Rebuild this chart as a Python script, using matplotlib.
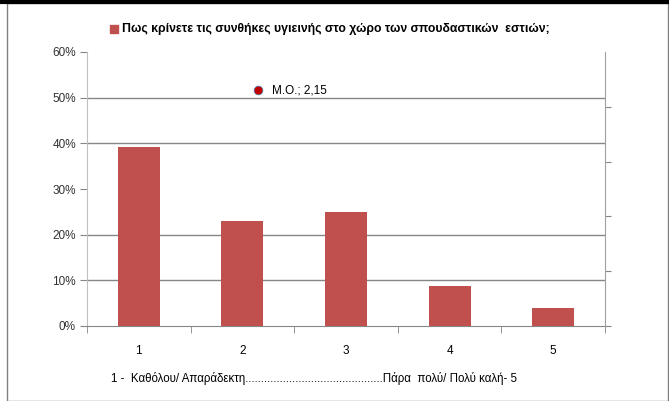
import matplotlib
matplotlib.use('Agg')
import matplotlib.pyplot as plt
from matplotlib.patches import Rectangle
from matplotlib.lines import Line2D

# data
categories = [1, 2, 3, 4, 5]
shares = [0.393, 0.230, 0.249, 0.087, 0.039]
mean_value = 2.15
mean_height = 4.3  # position on secondary axis
y_ticks = [0, 0.1, 0.2, 0.3, 0.4, 0.5, 0.6]
grid_levels = [0.1, 0.2, 0.4, 0.5]
legend_text = 'Πως κρίνετε τις συνθήκες υγιεινής στο χώρο των σπουδαστικών  εστιών;'
x_label = '1 -  Καθόλου/ Απαράδεκτη' + '.' * 44 + 'Πάρα  πολύ/ Πολύ καλή- 5'

W, H = 669, 401
fig = plt.figure(figsize=(W / 100, H / 100), dpi=100)
fig.patch.set_facecolor('white')
plt.rcParams['font.family'] = ['Liberation Sans', 'DejaVu Sans']

# outer frame
fig.add_artist(Rectangle((7 / W, 0.5 / H), 660.5 / W, 397.5 / H, transform=fig.transFigure,
                         fill=False, edgecolor='#808080', linewidth=1.0))
fig.add_artist(Line2D([0, 1], [1 - 1.5 / H, 1 - 1.5 / H], transform=fig.transFigure,
                      color='black', linewidth=3))

ax = fig.add_axes([87 / W, 75 / H, 518 / W, 274 / H])
bar_color = '#C0504D'
ax.bar(categories, shares, width=0.405, color=bar_color, zorder=3)
ax.set_xlim(0.5, 5.5)
ax.set_ylim(0, 0.6)

for g in grid_levels:
    ax.axhline(g, color='#868686', linewidth=1.0, zorder=1)

ax.set_yticks(y_ticks)
ax.set_yticklabels([f'{int(round(v * 100))}%' for v in y_ticks])
ax.set_xticks(categories)
ax.set_xticklabels([str(c) for c in categories])
ax.tick_params(axis='y', length=5, color='#868686', labelsize=8.5, pad=3, labelcolor='#333333')
ax.tick_params(axis='x', length=0, labelsize=8.5, pad=14)
# minor ticks at category borders
ax.set_xticks([0.5 + i for i in range(6)], minor=True)
ax.tick_params(axis='x', which='minor', length=5, color='#868686', direction='out')

for s in ['top', 'right']:
    ax.spines[s].set_visible(False)
ax.spines['left'].set_color('#BFBFBF')
ax.spines['bottom'].set_color('#868686')

ax.set_xlabel(x_label, fontsize=8.3)
ax.xaxis.set_label_coords(0.438, -0.168)

# secondary axis with the mean marker
ax2 = ax.twinx()
ax2.set_ylim(0, 5)
ax2.set_yticks([0, 1, 2, 3, 4])
ax2.set_yticklabels([])
ax2.tick_params(axis='y', length=4, color='#868686')
for s in ['top', 'left', 'bottom']:
    ax2.spines[s].set_visible(False)
ax2.spines['right'].set_color('#A0A0A0')
ax2.scatter([mean_value], [mean_height], s=40, color='#C00000', edgecolor='#4F81BD',
            linewidth=0.5, zorder=5)
ax2.text(mean_value + 0.14, mean_height, 'M.O.; 2,15', fontsize=8.5, va='center', ha='left')

# legend on top
fig.add_artist(Rectangle((110 / W, 1 - 33 / H), 8 / W, 8 / H, transform=fig.transFigure,
                         color=bar_color))
fig.text(122 / W, 1 - 29 / H, legend_text, fontsize=8.8, fontweight='bold', va='center', ha='left')

fig.savefig('out.png', dpi=100)
